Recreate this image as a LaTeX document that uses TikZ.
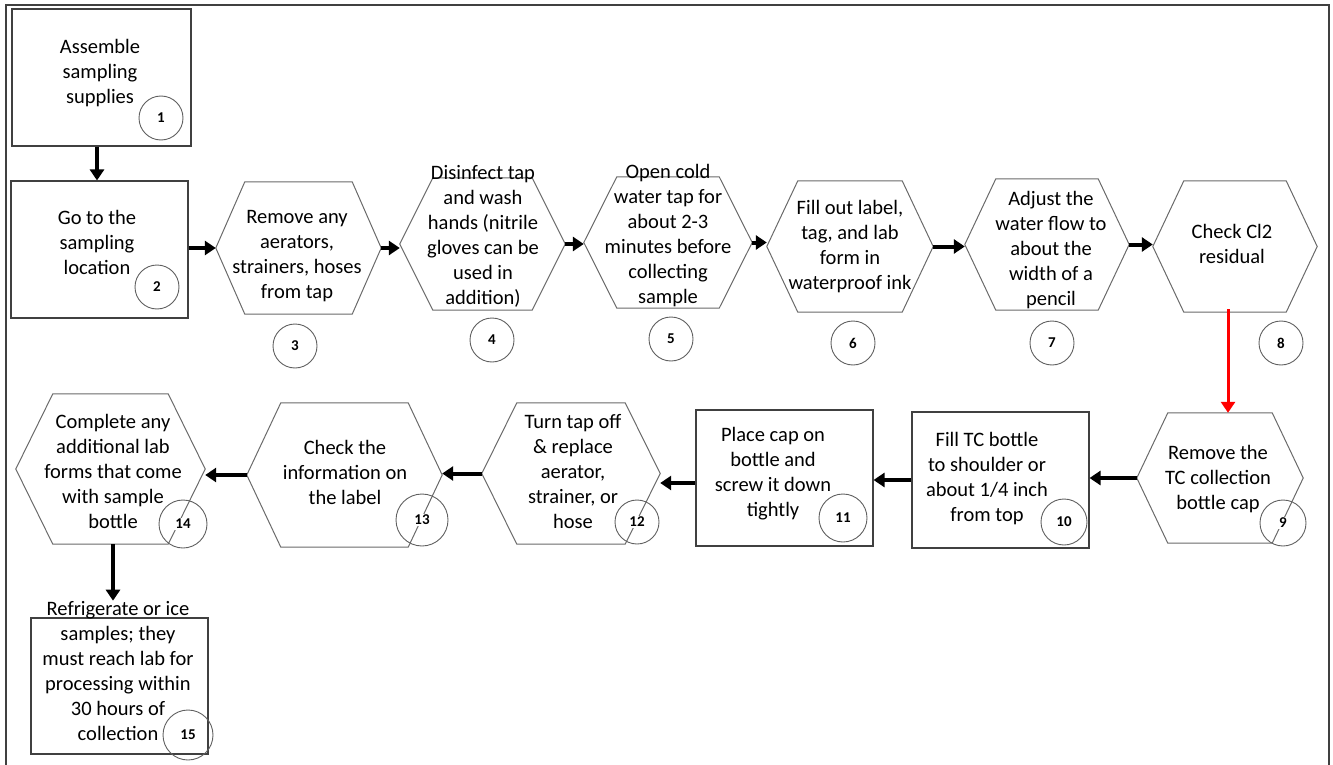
\documentclass[tikz,border=0pt]{standalone}
\usepackage{fontspec}
\setmainfont{Carlito}
\usetikzlibrary{arrows.meta,calc}
\definecolor{hexgray}{HTML}{6A6A6A}
\definecolor{boxgray}{HTML}{404040}
\definecolor{circgray}{HTML}{606060}
\tikzset{
  stepbox/.style={draw=boxgray, line width=1.1pt, inner sep=0pt},
  hexframe/.style={draw=none, inner sep=0pt},
  hexline/.style={draw=hexgray, line width=1pt},
  txt/.style={align=center, font=\fontsize{20.5}{25}\selectfont, inner sep=0pt, anchor=base},
  numc/.style={circle, draw=circgray, line width=0.9pt, inner sep=0pt},
  numt/.style={font=\fontsize{15}{17}\selectfont\bfseries, fill=white, inner sep=1pt},
  flow/.style={-{Triangle[length=11pt,width=14pt]}, line width=4pt, black},
  redflow/.style={flow, draw=red, fill=red, line width=3pt},
}
\newcommand\hexnode[6]{%
  \node[hexframe, minimum width=#4*2pt, minimum height=#5*2pt] (#1) at (#2,#3) {};
  \draw[hexline] (#1.west) -- ([xshift=#6pt]#1.north west) -- ([xshift=-#6pt]#1.north east)
     -- (#1.east) -- ([xshift=-#6pt]#1.south east) -- ([xshift=#6pt]#1.south west) -- cycle;
}
\newcommand\numnode[4]{%
  \node[numc, minimum size=#4*2pt] (c#1) at (#2,#3) {};
  \node[numt] (n#1) at (c#1) {#1};
}
\begin{document}
\begin{tikzpicture}[x=1pt,y=-1pt]
\useasboundingbox (0,0) rectangle (1333,765);
% frame
\coordinate (fa) at (6,770);
\coordinate (fb) at (6,5);
\coordinate (fc) at (1329,5);
\coordinate (fd) at (1329,770);
\draw[boxgray, line width=1.3pt] (fa) -- (fb) -- (fc) -- (fd);

% boxes
\node[stepbox, minimum width=179pt, minimum height=137pt] (B1) at (101.5,77.5) {};
\node[stepbox, minimum width=177pt, minimum height=137pt] (B2) at (99.5,249.5) {};
\node[stepbox, minimum width=177pt, minimum height=136pt] (B10) at (1000.5,480) {};
\node[stepbox, minimum width=177pt, minimum height=136pt] (B11) at (784.5,478) {};
\node[stepbox, minimum width=177pt, minimum height=136pt] (B15) at (119.5,686) {};

% hexagons
\hexnode{H3}{298.5}{248}{82.5}{66}{29}
\hexnode{H4}{482.5}{244}{82.5}{66}{33}
\hexnode{H5}{668}{242.5}{84}{65.5}{33}
\hexnode{H6}{850}{246.5}{83}{65.5}{31}
\hexnode{H7}{1047}{244.5}{82}{65.5}{31}
\hexnode{H8}{1235}{246.5}{82}{65.5}{31}
\hexnode{H9}{1220}{478}{83}{65}{31}
\hexnode{H12}{571}{473.5}{89}{70.5}{35}
\hexnode{H13}{344.5}{475}{97.5}{72}{34}
\hexnode{H14}{110.5}{469}{94.5}{75}{37}

% texts (base = baseline of last line)
\node[txt] (t1) at (100,104) {Assemble\\sampling\\supplies};
\node[txt] (t2) at (97,274) {Go to the\\sampling\\location};
\node[txt] (t3) at (297,298) {Remove any\\aerators,\\strainers, hoses\\from tap};
\node[txt] (t4) at (483,304) {Disinfect tap\\and wash\\hands (nitrile\\gloves can be\\used in\\addition)};
\node[txt] (t5) at (668,303) {Open cold\\water tap for\\about 2-3\\minutes before\\collecting\\sample};
\node[txt] (t6) at (850,289) {Fill out label,\\tag, and lab\\form in\\waterproof ink};
\node[txt] (t7) at (1051,305) {Adjust the\\water flow to\\about the\\width of a\\pencil};
\node[txt] (t8) at (1232,263) {Check Cl2\\residual};
\node[txt] (t9) at (1218,509) {Remove the\\TC collection\\bottle cap};
\node[txt] (t10) at (987,521) {Fill TC bottle\\to shoulder or\\about 1/4 inch\\from top};
\node[txt] (t11) at (773,516) {Place cap on\\bottle and\\screw it down\\tightly};
\node[txt] (t12) at (573,528) {Turn tap off\\\& replace\\aerator,\\strainer, or\\hose};
\node[txt] (t13) at (345,504) {Check the\\information on\\the label};
\node[txt] (t14) at (113,528) {Complete any\\additional lab\\forms that come\\with sample\\bottle};
\node[txt] (t15) at (118,740) {Refrigerate or ice\\samples; they\\must reach lab for\\processing within\\30 hours of\\collection};

% number circles
\numnode{1}{161}{118}{22}
\numnode{2}{157}{287}{22}
\numnode{3}{295}{346}{22}
\numnode{4}{492}{340}{22}
\numnode{5}{671}{339}{22}
\numnode{6}{853}{343}{22}
\numnode{7}{1052}{343}{22}
\numnode{8}{1281}{343}{22}
\numnode{9}{1283}{523}{23}
\numnode{10}{1064}{522}{23}
\numnode{11}{843}{518}{24}
\numnode{12}{637}{522}{22}
\numnode{13}{422}{520}{26}
\numnode{14}{183}{524}{24}
\numnode{15}{188}{735}{25}

% connectors
\draw[flow] ([xshift=-4.5pt]B1.south) -- ([xshift=-4.5pt]B1.south |- B2.north);
\draw[flow] (B2.east |- H3.west) -- (H3.west);
\draw[flow] (H3.east) -- (H3.east -| H4.west);
\draw[flow] (H4.east) -- (H4.east -| H5.west);
\draw[flow] (H5.east) -- (H5.east -| H6.west);
\draw[flow] (H6.east) -- (H6.east -| H7.west);
\draw[flow] (H7.east) -- (H7.east -| H8.west);
\draw[redflow] ([yshift=3pt]H8.south -| H9.north) ++(8pt,0) -- ([xshift=8pt]H9.north);
\draw[flow] (H9.west) -- (H9.west -| B10.east);
\draw[flow] (B10.west) -- (B10.west -| B11.east);
\draw[flow] ([yshift=-5pt]B11.west) -- ([yshift=-5pt]B11.west -| H12.east);
\draw[flow] (H12.west) -- (H12.west -| H13.east);
\draw[flow] (H13.west) -- (H13.west -| H14.east);
\draw[flow] ([xshift=2.5pt]H14.south) -- ([xshift=2.5pt]H14.south |- t15.north);
\end{tikzpicture}
\end{document}
